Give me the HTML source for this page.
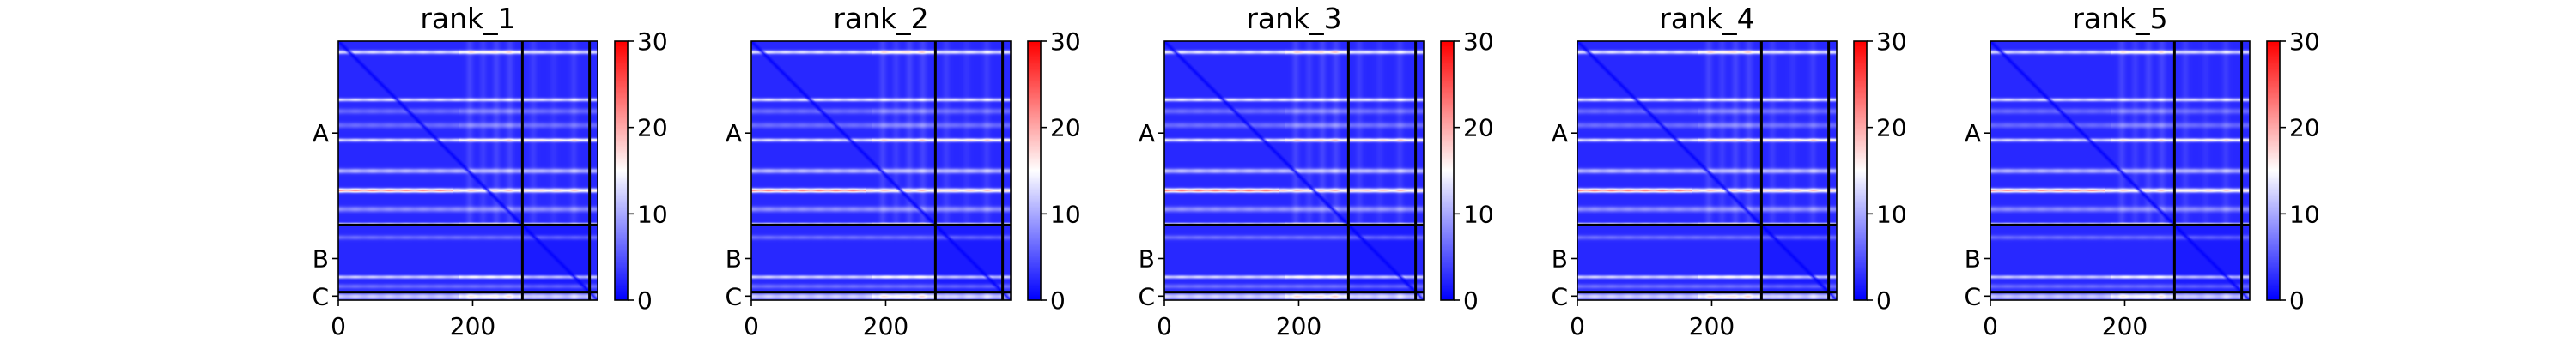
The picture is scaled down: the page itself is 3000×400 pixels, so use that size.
<!DOCTYPE html>
<html><head><meta charset="utf-8">
<style>
html,body{margin:0;padding:0;background:#fff;}
#root{position:relative;width:3000px;height:400px;overflow:hidden;font-family:"DejaVu Sans","Liberation Sans",sans-serif;}
canvas{position:absolute;image-rendering:auto;}
svg{position:absolute;left:0;top:0;}
</style></head>
<body>
<div id="root">
<svg id="ov" width="3000" height="400"></svg>
</div>
<script>
// ---- data ----
const panelTitles = ["rank_1","rank_2","rank_3","rank_4","rank_5"];
const seqLength = 386;
const chainBreaks = [274, 374];
const chainLabels = ["A","B","C"];
const xTickValues = [0, 200];
const cbarTicks = [0, 10, 20, 30];
const vmax = 30;
const baseValue = 2.4;
// horizontal stripes: residue row, peak value, width, hot column range start/end
const stripeRows = [16, 87, 104, 125, 147, 193, 222, 250, 272, 292, 351, 365, 380];
const stripeVals = [11, 11, 4, 4, 11, 9, 15, 6, 12, 4, 10, 4, 10];
const stripeWidth = [2, 1.8, 3, 3, 1.8, 2.5, 2.2, 3, 1.3, 2.5, 1.8, 2.5, 3.5];
const stripeHotA = [180, 0, 180, 180, 180, 0, 0, 0, 180, 0, 180, 0, 180];
const stripeHotB = [272, 0, 272, 272, 386, 0, 170, 0, 272, 0, 272, 0, 272];
// vertical faint stripes
const colRows = [195, 215, 235, 255, 290, 320, 350];
const colVals = [1.6, 1.2, 1.6, 1.6, 1.2, 0.8, 1.2];
// per-rank intensity factor
const rankFactor = [1.0, 1.03, 1.06, 1.04, 0.98];

function bwr(v){
  let t = Math.max(0, Math.min(1, v / vmax));
  let r,g,b;
  if (t < 0.5){ const u=t/0.5; r=255*u; g=255*u; b=255; }
  else { const u=(t-0.5)/0.5; r=255; g=255*(1-u); b=255*(1-u); }
  return [r|0,g|0,b|0];
}
function value(i,j,f){
  let v = baseValue;
  for (let k=0;k<colRows.length;k++){
    const d = j-colRows[k];
    if (i < chainBreaks[0] || i>chainBreaks[1]) v += colVals[k]*Math.exp(-d*d/30);
  }
  for (let k=0;k<stripeRows.length;k++){
    const d = i-stripeRows[k];
    const w = stripeWidth[k];
    let s = stripeVals[k]*f*Math.exp(-d*d/(2*w*w));
    if (j>=stripeHotA[k] && j<=stripeHotB[k]) s *= 1.3;
    v += s*(0.93+0.07*Math.cos(j*0.25));
  }
  if (i>=chainBreaks[0] && i<chainBreaks[1] && j>=chainBreaks[0] && j<chainBreaks[1]) v -= 0.8;
  const dd = Math.abs(i-j);
  if (dd < 6) v *= 0.15 + dd*0.14;
  return Math.max(0, v);
}

// ---- layout ----
const root = document.getElementById('root');
const ov = document.getElementById('ov');
const NS = "http://www.w3.org/2000/svg";
const panelLeft0 = 394, panelStep = 481, axTop = 48, axSize = 302;
const cbOff = 322, cbW = 15;

function mk(tag, attrs, parent){
  const e = document.createElementNS(NS, tag);
  for (const k in attrs) e.setAttribute(k, attrs[k]);
  parent.appendChild(e); return e;
}

panelTitles.forEach((title, p) => {
  const x0 = panelLeft0 + p*panelStep;
  const sx = v => x0 + v/seqLength*axSize;
  const sy = v => axTop + v/seqLength*axSize;

  const cv = document.createElement('canvas');
  
  
  cv.width = seqLength; cv.height = seqLength;
  cv.style.left = x0+'px'; cv.style.top = axTop+'px';
  cv.style.width = axSize+'px'; cv.style.height = axSize+'px';
  const ctx = cv.getContext('2d');
  const img = ctx.createImageData(seqLength, seqLength);
  for (let i=0;i<seqLength;i++) for (let j=0;j<seqLength;j++){
    const c = bwr(value(i,j,rankFactor[p]));
    const o = (i*seqLength+j)*4;
    img.data[o]=c[0]; img.data[o+1]=c[1]; img.data[o+2]=c[2]; img.data[o+3]=255;
  }
  ctx.putImageData(img,0,0);
  root.insertBefore(cv, ov);

  const cb = document.createElement('canvas');
  
  
  cb.width = 1; cb.height = 256;
  cb.style.left = (x0+cbOff)+'px'; cb.style.top = axTop+'px';
  cb.style.width = cbW+'px'; cb.style.height = axSize+'px';
  const cctx = cb.getContext('2d');
  for (let k=0;k<256;k++){ const c=bwr(vmax*(255-k)/255); cctx.fillStyle=`rgb(${c[0]},${c[1]},${c[2]})`; cctx.fillRect(0,k,1,1); }
  root.insertBefore(cb, ov);

  const g = mk('g', {}, ov);
  
  

  const t = mk('text', {x: x0+axSize/2, y: 33, 'text-anchor':'middle', 'font-size':33, fill:'#000'}, g);
  t.textContent = title;
  
  

  chainBreaks.forEach(b => {
    const lv = mk('line', {x1:sx(b), x2:sx(b), y1:axTop, y2:axTop+axSize, stroke:'#000','stroke-width':3}, g);
    
    
    const lh = mk('line', {x1:x0, x2:x0+axSize, y1:sy(b), y2:sy(b), stroke:'#000','stroke-width':3}, g);
    
    
  });

  const fr = mk('rect', {x:x0, y:axTop, width:axSize, height:axSize, fill:'none', stroke:'#000','stroke-width':1.6}, g);
  
  

  const bounds = [0, ...chainBreaks, seqLength];
  chainLabels.forEach((lab, k) => {
    const c = (bounds[k]+bounds[k+1])/2;
    const y = sy(c);
    const tk = mk('line', {x1:x0-7, x2:x0, y1:y, y2:y, stroke:'#000','stroke-width':1.6}, g);
    
    
    const tl = mk('text', {x:x0-11, y:y+10, 'text-anchor':'end', 'font-size':28, fill:'#000'}, g);
    tl.textContent = lab;
    
    
  });

  xTickValues.forEach(v => {
    const x = sx(v);
    const tk = mk('line', {x1:x, x2:x, y1:axTop+axSize, y2:axTop+axSize+7, stroke:'#000','stroke-width':1.6}, g);
    
    
    const tl = mk('text', {x:x, y:390, 'text-anchor':'middle', 'font-size':28, fill:'#000'}, g);
    tl.textContent = String(v);
    
    
  });

  const cbx = x0+cbOff;
  const cf = mk('rect', {x:cbx, y:axTop, width:cbW, height:axSize, fill:'none', stroke:'#000','stroke-width':1.6}, g);
  
  
  cbarTicks.forEach(v => {
    const y = axTop + axSize - v/vmax*axSize;
    const tk = mk('line', {x1:cbx+cbW, x2:cbx+cbW+7, y1:y, y2:y, stroke:'#000','stroke-width':1.6}, g);
    
    
    const tl = mk('text', {x:cbx+cbW+11, y:y+10, 'text-anchor':'start', 'font-size':28, fill:'#000'}, g);
    tl.textContent = String(v);
    
    
  });
});
</script>
</body></html>
